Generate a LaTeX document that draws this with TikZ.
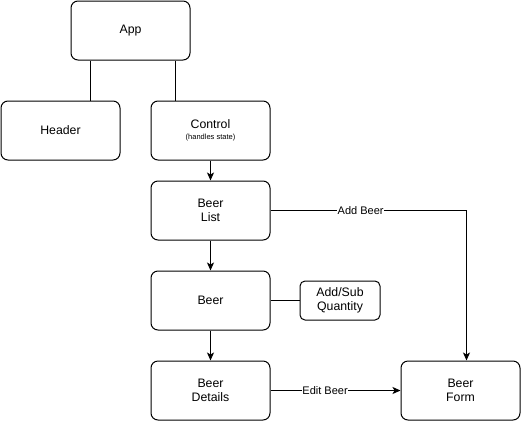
\documentclass[tikz,border=0pt]{standalone}
\usepackage{fontspec}
\setmainfont{Liberation Sans}
\usetikzlibrary{arrows.meta}
\usetikzlibrary{positioning}
\tikzset{box/.style = {draw, line width=1pt, rounded corners=7pt,
                       minimum width=119pt, minimum height=59pt,
                       align=center, font=\fontsize{12.3}{14}\selectfont},
         smallbox/.style = {box, minimum width=80pt, minimum height=39pt,
                            rounded corners=5pt},
         link/.style = {line width=1pt},
         flow/.style = {link, -{Stealth[length=8pt,width=7pt,inset=2pt]}},
         tag/.style = {fill=white, inner sep=0.5pt, font=\fontsize{11}{12}\selectfont}}

\begin{document}
\begin{tikzpicture}[x=1pt, y=-1pt]
    \useasboundingbox (0, 0) rectangle (522, 421);

    \node [box] (app) at (130.5, 30.5) {App};
    \node [box] (header) at (60.5, 130.5) {Header};
    \node [box] (control) at (210.5, 130.5)
        {Control\\[-3pt]{\fontsize{7.5}{8}\selectfont (handles state)}};
    \node [box] (list) at (210.5, 210.5) {Beer\\List};
    \node [box] (beer) at (210.5, 300.5) {Beer};
    \node [smallbox] (qty) at (340, 300.5) {Add/Sub\\Quantity};
    \node [box] (details) at (210.5, 390.5) {Beer\\Details};
    \node [box] (form) at (460.5, 390.5) {Beer\\Form};

    \draw [link] ([xshift=30pt]header.north |- app.south) -- ([xshift=30pt]header.north);
    \draw [link] ([xshift=-35.5pt]control.north |- app.south) -- ([xshift=-35.5pt]control.north);
    \draw [flow] (control) -- (list);
    \draw [flow] (list) -- (beer);
    \draw [flow] (beer) -- (details);
    \draw [link] (beer) -- (qty);
    \draw [flow] (list.east) -| node [tag, pos=0.23] {Add Beer} ([xshift=6pt]form.north);
    \draw [flow] (details) -- node [tag, pos=0.42] {Edit Beer} (form);
\end{tikzpicture}
\end{document}
